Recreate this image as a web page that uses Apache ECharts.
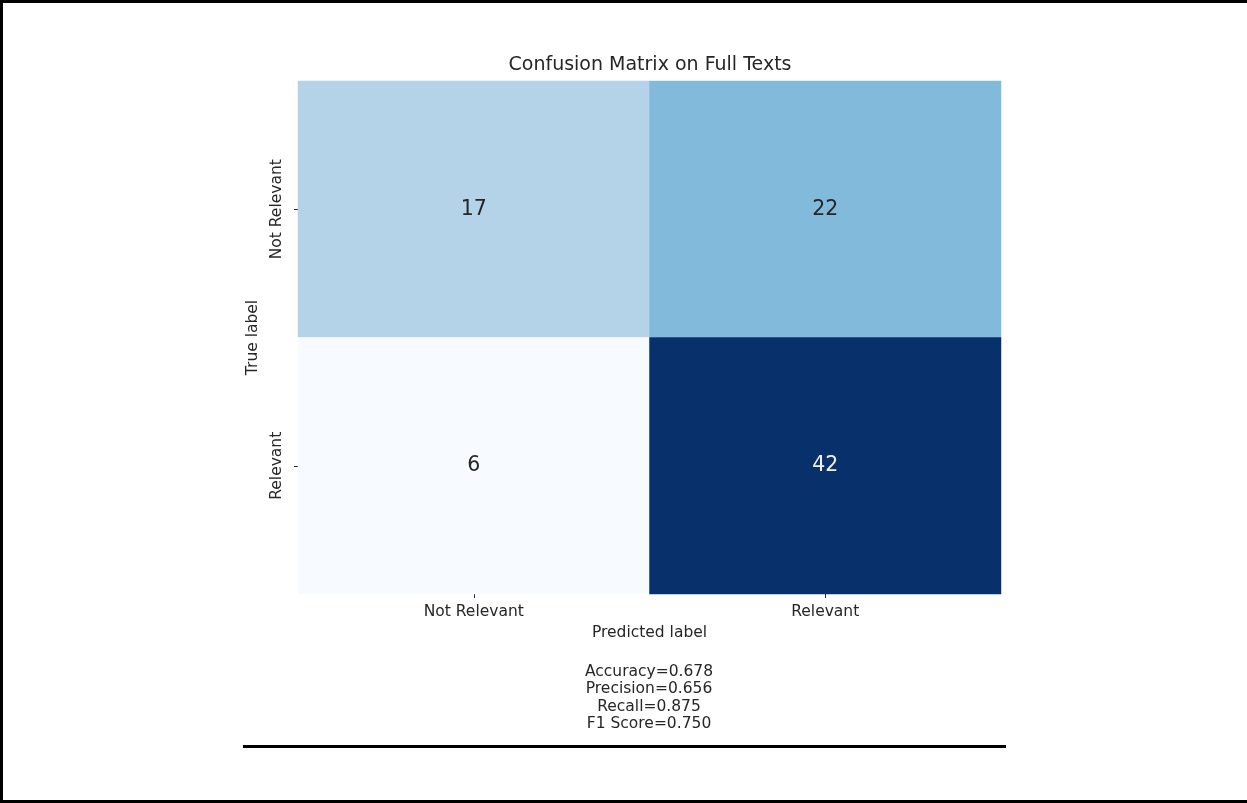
<!DOCTYPE html>
<html>
<head>
<meta charset="utf-8">
<style>
html,body{margin:0;padding:0;background:#fff;}
#chart{width:1247px;height:803px;}
</style>
<script src="https://cdn.jsdelivr.net/npm/echarts@6/dist/echarts.min.js"></script>
</head>
<body>
<div id="chart"></div>
<script>
const predictedLabels = ['Not Relevant', 'Relevant'];
const trueLabels = ['Not Relevant', 'Relevant'];
// rows = true label, columns = predicted label
const rowNotRelevant = [17, 22];
const rowRelevant = [6, 42];
const titleText = 'Confusion Matrix on Full Texts';
const metricLines = ['Accuracy=0.678', 'Precision=0.656', 'Recall=0.875', 'F1 Score=0.750'];

const matrix = [rowNotRelevant, rowRelevant];
const data = [];
let vmin = Infinity, vmax = -Infinity;
matrix.forEach((row) => row.forEach((v) => {
  vmin = Math.min(vmin, v); vmax = Math.max(vmax, v);
}));
const mid = (vmin + vmax) / 2;
matrix.forEach((row, r) => row.forEach((v, c) => {
  data.push({value: [c, r, v], label: {color: v > mid ? '#f0f0f0' : '#262626'}});
}));

const font = 'DejaVu Sans';
const fs = 15.5;
const chart = echarts.init(document.getElementById('chart'), null, {renderer: 'canvas'});
const graphics = [
  {type: 'rect', shape: {x: 0, y: 0, width: 1247, height: 3}, style: {fill: '#000'}},
  {type: 'rect', shape: {x: 0, y: 0, width: 3, height: 803}, style: {fill: '#000'}},
  {type: 'rect', shape: {x: 0, y: 800, width: 1247, height: 3}, style: {fill: '#000'}},
  {type: 'rect', shape: {x: 243, y: 745, width: 763, height: 3}, style: {fill: '#000'}},
  {type: 'text', x: 650, y: 65,
    style: {text: titleText, fontFamily: font, fontSize: 19, fill: '#262626', textAlign: 'center', textVerticalAlign: 'middle'}}
];
metricLines.forEach((t, i) => {
  graphics.push({type: 'text', x: 649, y: 672 + i * 17.3,
    style: {text: t, fontFamily: font, fontSize: fs, fill: '#262626', textAlign: 'center', textVerticalAlign: 'middle'}});
});

chart.setOption({
  animation: false,
  backgroundColor: '#fff',
  grid: {left: 298, top: 81, width: 703, height: 513},
  xAxis: {type: 'category', data: predictedLabels, position: 'bottom',
    name: 'Predicted label', nameLocation: 'middle', nameGap: 31,
    nameTextStyle: {fontFamily: font, fontSize: fs, color: '#262626'},
    axisLine: {show: false}, splitLine: {show: false},
    axisTick: {show: true, alignWithLabel: true, length: 4, lineStyle: {color: '#262626'}},
    axisLabel: {fontFamily: font, fontSize: fs, color: '#262626', margin: 10}},
  yAxis: {type: 'category', data: trueLabels, inverse: true,
    name: 'True label', nameLocation: 'middle', nameGap: 33, nameRotate: 90,
    nameTextStyle: {fontFamily: font, fontSize: fs, color: '#262626'},
    axisLine: {show: false}, splitLine: {show: false},
    axisTick: {show: true, alignWithLabel: true, length: 4, lineStyle: {color: '#262626'}},
    axisLabel: {fontFamily: font, fontSize: fs, color: '#262626', rotate: 90, margin: 13}},
  visualMap: {show: false, min: vmin, max: vmax, dimension: 2,
    inRange: {color: ['#f7fbff', '#deebf7', '#c6dbef', '#9ecae1', '#6baed6', '#4292c6', '#2171b5', '#08519c', '#08306b']}},
  series: [{type: 'heatmap', data: data,
    label: {show: true, fontFamily: font, fontSize: 20.5},
    itemStyle: {borderWidth: 0}, emphasis: {disabled: true}}],
  graphic: graphics
});
</script>
</body>
</html>
